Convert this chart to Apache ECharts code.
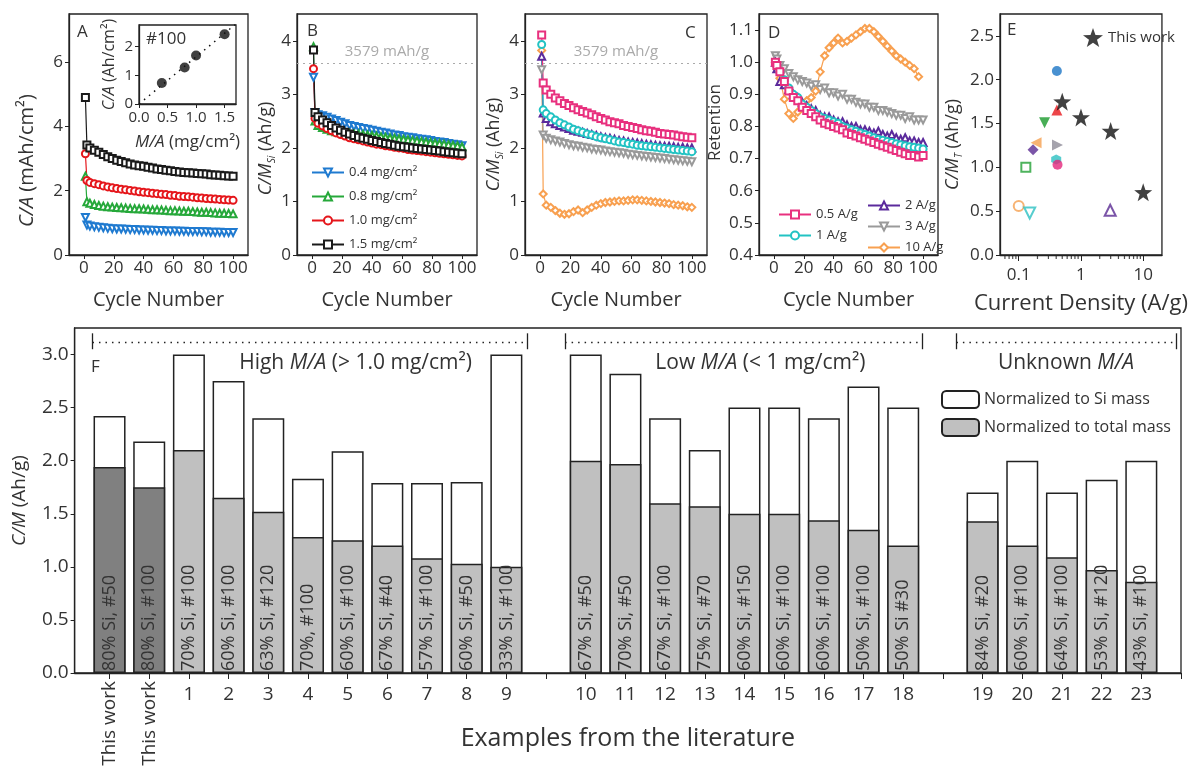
<!DOCTYPE html>
<html>
<head>
<meta charset="utf-8">
<script src="https://cdn.jsdelivr.net/npm/echarts@6/dist/echarts.min.js"></script>
<style>
  html, body { margin: 0; background: #fff; }
  #chart { width: 1190px; height: 769px; }
</style>
</head>
<body>
<div id="chart"></div>
<script>
// ---- data ----
const CYCLES = [1, 2, 4, 7, 10, 13, 16,
  19, 22, 25, 28, 31, 34, 37,
  40, 43, 46, 49, 52, 55, 58,
  61, 64, 67, 70, 73, 76, 79,
  82, 85, 88, 91, 94, 97, 100];
const CYCLE_TICKS = [0, 20, 40, 60, 80, 100];

// A: areal capacity (mAh/cm2) for four loadings
const A_04 = [1.17, 0.93, 0.90, 0.88, 0.86, 0.85, 0.83,
  0.82, 0.81, 0.81, 0.80, 0.79, 0.79, 0.78,
  0.78, 0.77, 0.77, 0.76, 0.76, 0.75, 0.75,
  0.75, 0.74, 0.74, 0.73, 0.73, 0.73, 0.72,
  0.72, 0.71, 0.71, 0.71, 0.70, 0.70, 0.70];
const A_08 = [2.45, 1.66, 1.61, 1.57, 1.54, 1.52, 1.50,
  1.49, 1.48, 1.47, 1.46, 1.45, 1.44, 1.44,
  1.43, 1.42, 1.41, 1.41, 1.40, 1.39, 1.38,
  1.38, 1.37, 1.36, 1.36, 1.35, 1.34, 1.33,
  1.33, 1.32, 1.31, 1.30, 1.30, 1.29, 1.28];
const A_10 = [3.15, 2.32, 2.26, 2.22, 2.19, 2.15, 2.12,
  2.09, 2.07, 2.05, 2.03, 2.01, 1.99, 1.97,
  1.95, 1.94, 1.92, 1.91, 1.89, 1.88, 1.86,
  1.85, 1.83, 1.82, 1.81, 1.80, 1.78, 1.77,
  1.76, 1.75, 1.74, 1.73, 1.72, 1.71, 1.70];
const A_15 = [4.90, 3.42, 3.33, 3.26, 3.20, 3.13, 3.06,
  3.00, 2.95, 2.91, 2.87, 2.83, 2.80, 2.78,
  2.76, 2.73, 2.71, 2.68, 2.66, 2.64, 2.62,
  2.60, 2.58, 2.57, 2.56, 2.55, 2.54, 2.53,
  2.52, 2.50, 2.49, 2.48, 2.47, 2.46, 2.45];

// A inset: capacity at cycle 100 vs loading
const INSET_LOADING = [0.4, 0.8, 1.0, 1.5];
const INSET_CAP = [0.73, 1.27, 1.69, 2.43];

// B: capacity per Si mass (Ah/g)
const B_04 = [3.32, 2.66, 2.62, 2.60, 2.57, 2.54, 2.51,
  2.48, 2.45, 2.42, 2.40, 2.38, 2.36, 2.35,
  2.33, 2.31, 2.29, 2.28, 2.26, 2.24, 2.23,
  2.21, 2.20, 2.19, 2.17, 2.16, 2.15, 2.14,
  2.12, 2.11, 2.10, 2.08, 2.07, 2.06, 2.04];
const B_08 = [3.89, 2.50, 2.42, 2.38, 2.35, 2.32, 2.30,
  2.29, 2.28, 2.27, 2.26, 2.26, 2.25, 2.24,
  2.23, 2.22, 2.21, 2.20, 2.19, 2.18, 2.17,
  2.16, 2.15, 2.14, 2.13, 2.12, 2.11, 2.10,
  2.09, 2.08, 2.07, 2.06, 2.05, 2.04, 2.02];
const B_10 = [3.48, 2.55, 2.46, 2.41, 2.36, 2.32, 2.28,
  2.25, 2.22, 2.19, 2.17, 2.15, 2.13, 2.11,
  2.09, 2.07, 2.06, 2.04, 2.03, 2.01, 2.00,
  1.99, 1.97, 1.96, 1.95, 1.94, 1.93, 1.92,
  1.91, 1.90, 1.89, 1.88, 1.87, 1.86, 1.85];
const B_15 = [3.83, 2.66, 2.58, 2.52, 2.47, 2.42, 2.37,
  2.33, 2.29, 2.26, 2.23, 2.20, 2.18, 2.16,
  2.14, 2.12, 2.10, 2.08, 2.07, 2.05, 2.03,
  2.02, 2.01, 2.00, 1.99, 1.98, 1.97, 1.96,
  1.95, 1.94, 1.93, 1.92, 1.91, 1.90, 1.89];

// C: capacity per Si mass at five rates
const C_05 = [4.11, 3.21, 3.08, 3.00, 2.93, 2.88, 2.83,
  2.79, 2.75, 2.71, 2.68, 2.65, 2.62, 2.58,
  2.55, 2.52, 2.49, 2.47, 2.45, 2.42, 2.40,
  2.38, 2.36, 2.34, 2.32, 2.31, 2.29, 2.27,
  2.26, 2.25, 2.24, 2.22, 2.21, 2.20, 2.19];
const C_1 = [3.93, 2.71, 2.64, 2.58, 2.52, 2.47, 2.43,
  2.39, 2.35, 2.32, 2.29, 2.26, 2.24, 2.21,
  2.19, 2.17, 2.15, 2.13, 2.11, 2.10, 2.08,
  2.07, 2.05, 2.04, 2.03, 2.02, 2.01, 2.00,
  1.99, 1.98, 1.97, 1.96, 1.95, 1.94, 1.93];
const C_2 = [3.71, 2.65, 2.55, 2.49, 2.45, 2.42, 2.39,
  2.36, 2.33, 2.31, 2.29, 2.27, 2.25, 2.23,
  2.21, 2.19, 2.18, 2.16, 2.14, 2.13, 2.11,
  2.10, 2.09, 2.08, 2.07, 2.06, 2.05, 2.04,
  2.03, 2.03, 2.02, 2.01, 2.01, 2.00, 2.00];
const C_3 = [3.46, 2.24, 2.18, 2.15, 2.13, 2.11, 2.08,
  2.06, 2.04, 2.03, 2.01, 2.00, 1.98, 1.97,
  1.96, 1.94, 1.93, 1.92, 1.91, 1.90, 1.88,
  1.87, 1.86, 1.85, 1.84, 1.83, 1.82, 1.81,
  1.80, 1.79, 1.78, 1.77, 1.76, 1.75, 1.74];
const C_10 = [3.82, 1.14, 0.93, 0.89, 0.83, 0.78, 0.76,
  0.77, 0.81, 0.84, 0.79, 0.84, 0.89, 0.93,
  0.96, 0.98, 0.99, 1.00, 1.01, 1.01, 1.02,
  1.03, 1.03, 1.02, 1.01, 1.00, 0.99, 0.98,
  0.97, 0.96, 0.94, 0.93, 0.92, 0.90, 0.89];

// D: retention at five rates
const D_05 = [1.00, 0.99, 0.97, 0.94, 0.91, 0.89, 0.88,
  0.86, 0.85, 0.84, 0.83, 0.82, 0.81, 0.805,
  0.80, 0.795, 0.79, 0.78, 0.775, 0.77, 0.765,
  0.76, 0.755, 0.75, 0.745, 0.74, 0.735, 0.73,
  0.725, 0.72, 0.715, 0.71, 0.71, 0.705, 0.71];
const D_1 = [1.00, 0.99, 0.97, 0.945, 0.92, 0.90, 0.89,
  0.87, 0.86, 0.85, 0.84, 0.83, 0.825, 0.82,
  0.815, 0.81, 0.80, 0.795, 0.79, 0.785, 0.78,
  0.775, 0.77, 0.765, 0.76, 0.757, 0.753, 0.75,
  0.746, 0.743, 0.74, 0.737, 0.735, 0.733, 0.73];
const D_2 = [1.00, 0.98, 0.94, 0.93, 0.915, 0.90, 0.89,
  0.875, 0.865, 0.855, 0.85, 0.835, 0.83, 0.83,
  0.82, 0.815, 0.815, 0.805, 0.80, 0.80, 0.79,
  0.79, 0.785, 0.78, 0.785, 0.775, 0.77, 0.775,
  0.765, 0.76, 0.765, 0.755, 0.755, 0.75, 0.75];
const D_3 = [1.02, 1.01, 0.99, 0.98, 0.965, 0.955, 0.945,
  0.94, 0.935, 0.925, 0.93, 0.915, 0.92, 0.905,
  0.905, 0.895, 0.90, 0.885, 0.885, 0.875, 0.87,
  0.87, 0.86, 0.86, 0.85, 0.85, 0.845, 0.84,
  0.835, 0.835, 0.825, 0.83, 0.82, 0.82, 0.82];
const D_10 = [1.00, 0.985, 0.95, 0.885, 0.84, 0.825, 0.845,
  0.865, 0.88, 0.89, 0.91, 0.97, 1.02, 1.045,
  1.06, 1.075, 1.06, 1.065, 1.075, 1.085, 1.095,
  1.105, 1.105, 1.095, 1.08, 1.065, 1.05, 1.035,
  1.02, 1.01, 1.00, 0.99, 0.98, 0.955, null];

// E: capacity per total mass vs current density
const E_LIT_X = [0.41, 0.41, 0.26, 0.19, 0.17, 0.42, 0.40, 0.42, 0.13, 0.10, 0.15, 2.95];
const E_LIT_Y = [2.10, 1.655, 1.51, 1.28, 1.20, 1.256, 1.09, 1.03, 1.00, 0.56, 0.48, 0.51];
const THIS_WORK_X = [0.5, 1, 3, 10];
const THIS_WORK_Y = [1.75, 1.57, 1.415, 0.715];

// F: literature comparison ('' = gap slot)
const F_LABELS = ['This work', 'This work', '1', '2', '3', '4', '5', '6', '7', '8', '9', '',
  '10', '11', '12', '13', '14', '15', '16', '17', '18', '', '19', '20', '21', '22', '23'];
const SI_MASS = [2.42, 2.18, 3.00, 2.75, 2.40, 1.83, 2.09, 1.79, 1.79, 1.80, 3.00, null,
  3.00, 2.82, 2.40, 2.10, 2.50, 2.50, 2.40, 2.70, 2.50, null, 1.70, 2.00, 1.70, 1.82, 2.00];
const TOTAL_MASS = [1.94, 1.75, 2.10, 1.65, 1.52, 1.28, 1.25, 1.20, 1.08, 1.03, 1.00, null,
  2.00, 1.97, 1.60, 1.57, 1.50, 1.50, 1.44, 1.35, 1.20, null, 1.43, 1.20, 1.09, 0.97, 0.86];
const BAR_NOTES = ['80% Si, #50', '80% Si, #100', '70% Si, #100', '60% Si, #100', '63% Si, #120',
  '70%, #100', '60% Si, #100', '67% Si, #40', '57% Si, #100', '60% Si, #50', '33% Si, #100', '',
  '67% Si, #50', '70% Si, #50', '67% Si, #100', '75% Si, #70', '60% Si, #150', '60% Si, #100',
  '60% Si, #100', '50% Si, #100', '50% Si #30', '',
  '84% Si, #20', '60% Si, #100', '64% Si, #100', '53% Si, #120', '43% Si, #100'];
const GROUP_TITLES = ['High {i|M/A} (> 1.0 mg/cm²)', 'Low {i|M/A} (< 1 mg/cm²)', 'Unknown {i|M/A}'];

// ---- styling ----
const FONT = "'Open Sans', 'Noto Sans', sans-serif";
const INK = '#333';
const AXIS = '#222';
const C_BLUE = '#1f7ad0', C_GREEN = '#26a83a', C_RED = '#e5161b', C_BLACK = '#1a1a1a';
const C_PINK = '#e8307e', C_CYAN = '#22c3c3', C_PURPLE = '#5b2a9c', C_GRAY = '#9a9a9a', C_ORANGE = '#f8a050';
const STAR = 'path://M0,-10L2.35,-3.24L9.51,-3.09L3.8,1.24L5.88,8.09L0,4L-5.88,8.09L-3.8,1.24L-9.51,-3.09L-2.35,-3.24Z';
const HEX = 'path://M0,-10L8.66,-5L8.66,5L0,10L-8.66,5L-8.66,-5Z';
const E_MARKERS = [
  { symbol: 'circle', color: '#1c75c6', size: 10 },
  { symbol: 'triangle', color: '#e8171b', size: 11 },
  { symbol: 'triangle', rotate: 180, color: '#1a9a2c', size: 11 },
  { symbol: 'triangle', rotate: 90, color: '#f5a050', size: 11 },
  { symbol: 'diamond', color: '#5a2a92', size: 11 },
  { symbol: 'triangle', rotate: -90, color: '#8e8c98', size: 11 },
  { symbol: HEX, color: '#2cc0c2', size: 10 },
  { symbol: 'circle', color: '#e3277c', size: 10 },
  { symbol: 'emptyRect', color: '#22a035', size: 9 },
  { symbol: 'emptyCircle', color: '#f5a050', size: 10 },
  { symbol: 'emptyTriangle', rotate: 180, color: '#2cc0c2', size: 11 },
  { symbol: 'emptyTriangle', color: '#5a2a92', size: 11 }
];

const RICH = size => ({
  i: { fontStyle: 'italic', fontSize: size, fontFamily: FONT, color: INK },
  sub: { fontStyle: 'italic', fontSize: Math.round(size * 0.55), fontFamily: FONT, color: INK, verticalAlign: 'bottom', lineHeight: size + 4 }
});

function cycleAxis(gridIndex) {
  return {
    type: 'value', gridIndex, min: -10, max: 110,
    axisLine: { onZero: false, lineStyle: { color: AXIS, width: 1.3 } },
    axisTick: { customValues: CYCLE_TICKS, length: 4, lineStyle: { color: AXIS } },
    axisLabel: { customValues: CYCLE_TICKS, color: INK, fontSize: 17, margin: 5 },
    splitLine: { show: false },
    name: 'Cycle Number', nameLocation: 'middle', nameGap: 35,
    nameTextStyle: { fontSize: 20, color: INK }
  };
}

// shift moves a rotated y-axis name along the axis (positive = down)
function valueAxis(gridIndex, min, max, ticks, digits, name, nameGap, nameSize, labelSize, shift) {
  const s = shift || 0;
  return {
    type: 'value', gridIndex, min, max,
    axisLine: { onZero: false, lineStyle: { color: AXIS, width: 1.3 } },
    axisTick: { customValues: ticks, length: 4, lineStyle: { color: AXIS } },
    axisLabel: {
      customValues: ticks, color: INK, fontSize: labelSize || 17, margin: 6,
      formatter: v => digits ? v.toFixed(digits) : String(v)
    },
    splitLine: { show: false },
    name, nameLocation: 'middle', nameGap,
    nameTextStyle: { fontSize: nameSize, color: INK, lineHeight: nameSize + 4, rich: RICH(nameSize),
      padding: [0, Math.max(0, 2 * s), 0, Math.max(0, -2 * s)] }
  };
}

function lineSeries(name, values, color, symbol, rotate, axisIndex) {
  return {
    type: 'line', name, xAxisIndex: axisIndex, yAxisIndex: axisIndex,
    data: CYCLES.map((c, i) => [c, values[i]]),
    symbol, symbolRotate: rotate || 0, symbolSize: 7, showAllSymbol: true,
    color, lineStyle: { color, width: 1.2 },
    itemStyle: { color, borderColor: color, borderWidth: 1 }
  };
}

function gridBox(left, top, width, height, bg) {
  return { left, top, width, height, show: true, borderColor: AXIS, borderWidth: 1.3,
    backgroundColor: bg || 'transparent' };
}

function letter(text, left, top) {
  return { text, left, top, padding: 0,
    textStyle: { fontSize: 17, fontWeight: 'normal', color: INK, fontFamily: FONT } };
}

// ---- F bars ----
const fIndex = F_LABELS.map((l, i) => i).filter(i => SI_MASS[i] != null);
const F_TICKS = F_LABELS.map((l, i) => i).concat([F_LABELS.length]);
const NUM_LABEL_POS = fIndex.filter(i => F_LABELS[i] !== 'This work');
const WORK_LABEL_POS = fIndex.filter(i => F_LABELS[i] === 'This work');

const GROUP_SPANS = [[-0.43, 10.53], [11.48, 20.49], [21.34, 26.88]];
const GROUP_TITLE_X = [6.2, 16.4, 24.1];
const GROUP_Y = 3.12;

const groupLines = [];
GROUP_SPANS.forEach(([a, b]) => {
  groupLines.push([{ coord: [a, GROUP_Y], lineStyle: { type: [1.5, 5], width: 1.3, color: AXIS } },
    { coord: [b, GROUP_Y] }]);
  [a, b].forEach(x => groupLines.push([{ coord: [x, 3.05], lineStyle: { type: 'solid', width: 1.3, color: AXIS } },
    { coord: [x, 3.2] }]));
});

// fit line through origin for the inset
const slope = INSET_LOADING.reduce((s, x, i) => s + x * INSET_CAP[i], 0) /
  INSET_LOADING.reduce((s, x) => s + x * x, 0);

// minor ticks of the log axis (decade subdivisions)
const E_MINOR = [];
[0.01, 0.1, 1].forEach(d => { for (let k = 2; k <= 9; k++) { const v = +(k * d).toFixed(3); if (v > 0.05 && v < 20) E_MINOR.push([v, 0]); } });

const chart = echarts.init(document.getElementById('chart'));

const option = {
  animation: false,
  backgroundColor: '#fff',
  textStyle: { fontFamily: FONT, color: INK },
  title: [
    letter('A', 77, 24), letter('#100', 146, 31), letter('B', 307, 23), letter('C', 685, 25),
    letter('D', 768, 25), letter('E', 1007, 22), letter('F', 91, 359)
  ],
  grid: [
    gridBox(69, 14, 179, 241),          // A
    gridBox(139, 25, 97, 79, '#fff'),   // A inset
    gridBox(297, 14, 180, 241),         // B
    gridBox(525, 14, 182, 241),         // C
    gridBox(759, 14, 179, 241),         // D
    gridBox(1000, 14, 181, 241),        // E
    gridBox(69, 328, 1112, 345)         // F
  ],
  legend: [
    { orient: 'vertical', left: 306, top: 161, itemWidth: 32, itemHeight: 10, itemGap: 11,
      textStyle: { fontSize: 13, color: INK },
      data: ['0.4 mg/cm²', '0.8 mg/cm²', '1.0 mg/cm²', '1.5 mg/cm²'] },
    { orient: 'vertical', left: 773, top: 203, itemWidth: 32, itemHeight: 10, itemGap: 8,
      textStyle: { fontSize: 13, color: INK }, data: ['0.5 A/g', '1 A/g'] },
    { orient: 'vertical', left: 862, top: 194, itemWidth: 32, itemHeight: 10, itemGap: 8,
      textStyle: { fontSize: 13, color: INK }, data: ['2 A/g', '3 A/g', '10 A/g'] },
    { left: 1078, top: 23, itemWidth: 20, itemHeight: 20, textStyle: { fontSize: 15, color: INK },
      data: ['This work'] },
    { orient: 'vertical', left: 936, top: 385, itemWidth: 37, itemHeight: 17, itemGap: 9,
      textStyle: { fontSize: 16, color: INK },
      data: ['Normalized to Si mass', 'Normalized to total mass'] }
  ],
  xAxis: [
    cycleAxis(0),
    valueAxis(1, 0, 1.7, [0, 0.5, 1, 1.5], 1, '{i|M/A} (mg/cm²)', 28, 17, 15),
    cycleAxis(2),
    cycleAxis(3),
    cycleAxis(4),
    {
      type: 'log', gridIndex: 5, logBase: 10, min: 0.05, max: 20,
      axisLine: { onZero: false, lineStyle: { color: AXIS, width: 1.3 } },
      axisTick: { length: 6, lineStyle: { color: AXIS } },
      axisLabel: { color: INK, fontSize: 17, margin: 12, showMinLabel: false, showMaxLabel: false,
        formatter: v => String(+(+v).toPrecision(3)) },
      splitLine: { show: false }, minorTick: { show: false },
      name: 'Current Density (A/g)', nameLocation: 'middle', nameGap: 38,
      nameTextStyle: { fontSize: 22, color: INK }
    },
    {
      type: 'value', gridIndex: 6, min: -0.88, max: F_LABELS.length, position: 'bottom',
      axisLine: { onZero: false, lineStyle: { color: AXIS, width: 1.3 } },
      axisTick: { customValues: F_TICKS, length: 6, lineStyle: { color: AXIS } },
      axisLabel: { customValues: NUM_LABEL_POS, color: INK, fontSize: 19, margin: 12,
        formatter: v => F_LABELS[v] },
      splitLine: { show: false },
      name: 'Examples from the literature', nameLocation: 'middle', nameGap: 53,
      nameTextStyle: { fontSize: 25, color: INK }
    },
    {
      type: 'value', gridIndex: 6, min: -0.88, max: F_LABELS.length, position: 'bottom',
      axisLine: { show: false, onZero: false }, axisTick: { show: false }, splitLine: { show: false },
      axisLabel: { customValues: WORK_LABEL_POS, color: INK, fontSize: 19, margin: 8, rotate: 90,
        formatter: v => F_LABELS[v] }
    }
  ],
  yAxis: [
    valueAxis(0, 0, 7.5, [0, 2, 4, 6], 0, '{i|C/A} (mAh/cm²)', 30, 20, 17, 26),
    valueAxis(1, 0, 2.75, [0, 1, 2], 0, '{i|C/A} (Ah/cm²)', 20, 16, 15),
    valueAxis(2, 0, 4.5, [0, 1, 2, 3, 4], 0, '{i|C/M}{sub|Si} (Ah/g)', 20, 18, 17, 14),
    valueAxis(3, 0, 4.5, [0, 1, 2, 3, 4], 0, '{i|C/M}{sub|Si} (Ah/g)', 20, 18, 17, 10),
    valueAxis(4, 0.4, 1.15, [0.4, 0.5, 0.6, 0.7, 0.8, 0.9, 1.0, 1.1], 1, 'Retention', 33, 17, 17, -12),
    valueAxis(5, 0, 2.75, [0, 0.5, 1, 1.5, 2, 2.5], 1, '{i|C/M}{sub|T} (Ah/g)', 36, 18, 17, 10),
    valueAxis(6, 0, 3.25, [0, 0.5, 1, 1.5, 2, 2.5, 3], 1, '{i|C/M} (Ah/g)', 38, 19, 19)
  ],
  series: []
};

// A
option.series.push(
  lineSeries('0.4 mg/cm²', A_04, C_BLUE, 'emptyTriangle', 180, 0),
  lineSeries('0.8 mg/cm²', A_08, C_GREEN, 'emptyTriangle', 0, 0),
  lineSeries('1.0 mg/cm²', A_10, C_RED, 'emptyCircle', 0, 0),
  lineSeries('1.5 mg/cm²', A_15, C_BLACK, 'emptyRect', 0, 0)
);
// A inset
option.series.push(
  { type: 'line', xAxisIndex: 1, yAxisIndex: 1, symbol: 'none', silent: true,
    data: [[0, 0], [1.7, slope * 1.7]], lineStyle: { color: '#111', width: 1.5, type: [1.5, 5] } },
  { type: 'scatter', xAxisIndex: 1, yAxisIndex: 1, symbolSize: 10, itemStyle: { color: '#111' },
    data: INSET_LOADING.map((x, i) => [x, INSET_CAP[i]]) }
);
// B
const refLine = axisIndex => ({
  type: 'line', xAxisIndex: axisIndex, yAxisIndex: axisIndex, data: [], silent: true,
  markLine: { symbol: 'none', silent: true, animation: false,
    lineStyle: { color: '#aaa', type: [2, 4], width: 1.2 },
    label: { formatter: '3579 mAh/g', position: 'insideMiddleTop', color: '#aaa', fontSize: 15, distance: 4 },
    data: [{ yAxis: 3.579 }] }
});
option.series.push(
  refLine(2),
  lineSeries('0.4 mg/cm²', B_04, C_BLUE, 'emptyTriangle', 180, 2),
  lineSeries('0.8 mg/cm²', B_08, C_GREEN, 'emptyTriangle', 0, 2),
  lineSeries('1.0 mg/cm²', B_10, C_RED, 'emptyCircle', 0, 2),
  lineSeries('1.5 mg/cm²', B_15, C_BLACK, 'emptyRect', 0, 2)
);
// C
option.series.push(
  refLine(3),
  lineSeries('10 A/g', C_10, C_ORANGE, 'emptyDiamond', 0, 3),
  lineSeries('3 A/g', C_3, C_GRAY, 'emptyTriangle', 180, 3),
  lineSeries('2 A/g', C_2, C_PURPLE, 'emptyTriangle', 0, 3),
  lineSeries('1 A/g', C_1, C_CYAN, 'emptyCircle', 0, 3),
  lineSeries('0.5 A/g', C_05, C_PINK, 'emptyRect', 0, 3)
);
// D
option.series.push(
  lineSeries('3 A/g', D_3, C_GRAY, 'emptyTriangle', 180, 4),
  lineSeries('10 A/g', D_10, C_ORANGE, 'emptyDiamond', 0, 4),
  lineSeries('2 A/g', D_2, C_PURPLE, 'emptyTriangle', 0, 4),
  lineSeries('1 A/g', D_1, C_CYAN, 'emptyCircle', 0, 4),
  lineSeries('0.5 A/g', D_05, C_PINK, 'emptyRect', 0, 4)
);
// E
E_LIT_X.forEach((x, i) => {
  const m = E_MARKERS[i];
  option.series.push({
    type: 'scatter', xAxisIndex: 5, yAxisIndex: 5, data: [[x, E_LIT_Y[i]]],
    symbol: m.symbol, symbolSize: m.size, symbolRotate: m.rotate || 0,
    itemStyle: { color: m.color, borderColor: m.color, borderWidth: m.symbol.startsWith('empty') ? 1.3 : 0 }
  });
});
option.series.push(
  { type: 'scatter', name: 'This work', xAxisIndex: 5, yAxisIndex: 5, symbol: STAR, symbolSize: 18,
    itemStyle: { color: '#111' }, data: THIS_WORK_X.map((x, i) => [x, THIS_WORK_Y[i]]) },
  { type: 'scatter', xAxisIndex: 5, yAxisIndex: 5, silent: true, clip: false, data: E_MINOR,
    symbol: 'rect', symbolSize: [1.2, 4], symbolOffset: [0, 2], itemStyle: { color: AXIS } }
);
// F
option.series.push(
  { type: 'bar', name: 'Normalized to Si mass', xAxisIndex: 6, yAxisIndex: 6, barWidth: 32, barGap: '-100%',
    itemStyle: { color: '#fff', borderColor: AXIS, borderWidth: 1.5 },
    data: fIndex.map(i => [i, SI_MASS[i]]),
    markPoint: {
      silent: true, symbol: 'rect', symbolSize: 1, itemStyle: { color: 'transparent' },
      data: GROUP_TITLES.map((t, k) => ({
        coord: [GROUP_TITLE_X[k], 2.92],
        label: { show: true, position: 'inside', formatter: () => t, fontSize: 21, color: INK, rich: RICH(21) }
      }))
    }
  },
  { type: 'bar', name: 'Normalized to total mass', xAxisIndex: 6, yAxisIndex: 6, barWidth: 32, barGap: '-100%',
    itemStyle: { color: '#c0c0c0', borderColor: AXIS, borderWidth: 1.5 },
    data: fIndex.map(i => ({
      value: [i, TOTAL_MASS[i]],
      itemStyle: { color: F_LABELS[i] === 'This work' ? '#808080' : '#c0c0c0' }
    })),
    label: { show: true, position: 'insideBottom', rotate: 90, align: 'left', verticalAlign: 'middle',
      distance: 2, fontSize: 18, color: INK, formatter: p => BAR_NOTES[p.value[0]] },
    markLine: { symbol: 'none', silent: true, label: { show: false }, data: groupLines }
  }
);

chart.setOption(option);
</script>
</body>
</html>
